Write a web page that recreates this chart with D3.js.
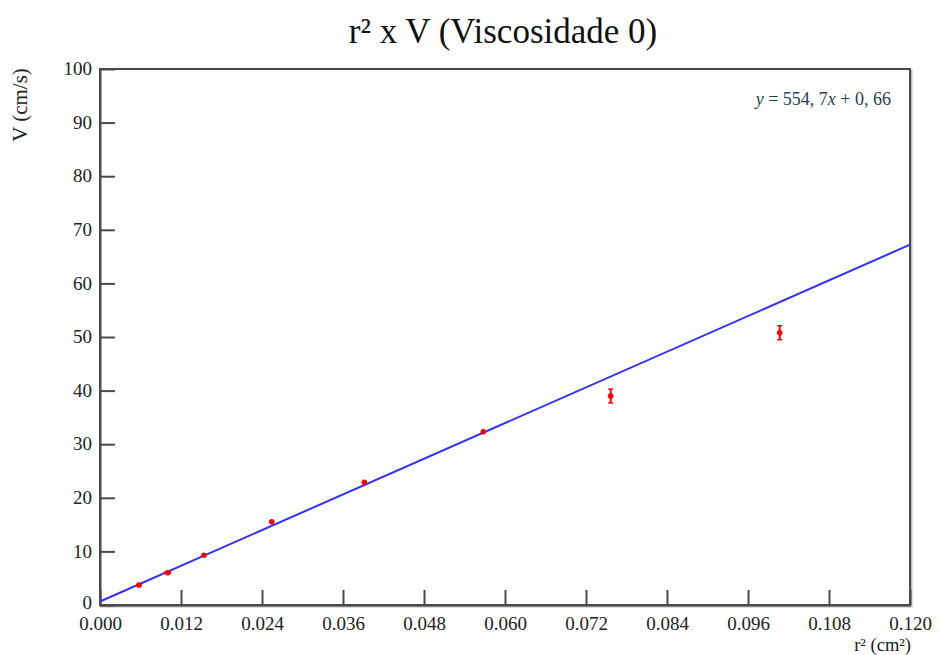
<!DOCTYPE html>
<html>
<head>
<meta charset="utf-8">
<script src="https://cdn.jsdelivr.net/npm/d3@7"></script>
<style>
body { margin: 0; background: #fff; }
text { font-family: "Liberation Serif", "DejaVu Serif", serif; }
</style>
</head>
<body>
<script>
// measured data (r^2 in cm^2, V in cm/s)
var r2 = [0.00578, 0.01003, 0.0154, 0.02544, 0.03916, 0.05679, 0.07566, 0.1007];
var vel = [3.73, 6.03, 9.27, 15.54, 22.89, 32.33, 38.99, 50.8];
var velErr = [0.25, 0.25, 0.25, 0.3, 0.3, 0.4, 1.3, 1.3];
var r2Err = [0.0004, 0.0005, 0, 0, 0, 0, 0, 0];

var xTicks = [0, 0.012, 0.024, 0.036, 0.048, 0.060, 0.072, 0.084, 0.096, 0.108, 0.120];
var yTicks = [0, 10, 20, 30, 40, 50, 60, 70, 80, 90, 100];

// fit
var slope = 554.7, intercept = 0.66;

var width = 939, height = 655;
var margin = {top: 69, right: 29, bottom: 50, left: 100};

var svg = d3.select("body").append("svg")
    .attr("width", width).attr("height", height);

var x = d3.scaleLinear().domain([0, 0.12]).range([margin.left, width - margin.right]);
var y = d3.scaleLinear().domain([0, 100]).range([height - margin.bottom, margin.top]);

var frameColour = "#4a4a4a";

// Title
svg.append("text")
    .attr("x", 503).attr("y", 43)
    .attr("text-anchor", "middle")
    .style("font-size", "35px")
    .attr("fill", "#111")
    .text("r² x V (Viscosidade 0)");

// frame shadow + frame
svg.append("rect")
    .attr("x", x(0) + 1.5).attr("y", y(100) + 1.5)
    .attr("width", x(0.12) - x(0)).attr("height", y(0) - y(100))
    .attr("fill", "none").attr("stroke", "#bbb").attr("stroke-width", 2);
svg.append("rect")
    .attr("x", x(0)).attr("y", y(100))
    .attr("width", x(0.12) - x(0)).attr("height", y(0) - y(100))
    .attr("fill", "#fff").attr("stroke", frameColour).attr("stroke-width", 2);

// axes, ticks inward
var xAxis = svg.append("g")
    .attr("transform", "translate(0," + y(0) + ")")
    .call(d3.axisBottom(x).tickValues(xTicks).tickSizeInner(-15).tickSizeOuter(0)
        .tickPadding(11.2).tickFormat(d3.format(".3f")));
var yAxis = svg.append("g")
    .attr("transform", "translate(" + x(0) + ",0)")
    .call(d3.axisLeft(y).tickValues(yTicks).tickSizeInner(-15).tickSizeOuter(0)
        .tickPadding(8));

[xAxis, yAxis].forEach(function(a) {
    a.select(".domain").attr("stroke", frameColour).attr("stroke-width", 2);
    a.selectAll(".tick line").attr("stroke", frameColour).attr("stroke-width", 2);
    a.selectAll(".tick text")
        .style("font-family", "'Liberation Serif', serif")
        .style("font-size", "19px")
        .attr("fill", "#222");
});
xAxis.selectAll(".tick text").attr("dy", "0.72em");
yAxis.selectAll(".tick text").attr("dy", "0.3em");
// lowest label nudged up a bit so it clears the x labels
yAxis.selectAll(".tick text").filter(function(d) { return d === 0; }).attr("dy", "0.2em");

// Axis labels
svg.append("text")
    .attr("x", x(0.12) + 1).attr("y", 650.8)
    .attr("text-anchor", "end")
    .style("font-size", "18.5px")
    .attr("fill", "#222")
    .text("r² (cm²)");

svg.append("text")
    .attr("transform", "translate(27,105)rotate(-90)")
    .attr("text-anchor", "middle")
    .style("font-size", "21px")
    .attr("fill", "#222")
    .text("V (cm/s)");

// Fit line
svg.append("line")
    .attr("x1", x(0)).attr("y1", y(intercept))
    .attr("x2", x(0.12)).attr("y2", y(slope * 0.12 + intercept))
    .attr("stroke", "#3030ff").attr("stroke-width", 2);

// Data with error bars
var pts = r2.map(function(d, i) {
    return {x: d, y: vel[i], ey: velErr[i], ex: r2Err[i]};
});
var g = svg.selectAll(".pt").data(pts).enter().append("g").attr("class", "pt");
g.append("line")
    .attr("x1", function(d) { return x(d.x); })
    .attr("x2", function(d) { return x(d.x); })
    .attr("y1", function(d) { return y(d.y - d.ey); })
    .attr("y2", function(d) { return y(d.y + d.ey); })
    .attr("stroke", "#f00").attr("stroke-width", 2);
// small caps on the larger error bars
g.filter(function(d) { return d.ey > 1; }).selectAll(".cap")
    .data(function(d) { return [[d.x, d.y - d.ey], [d.x, d.y + d.ey]]; })
    .enter().append("line")
    .attr("x1", function(c) { return x(c[0]) - 2.5; })
    .attr("x2", function(c) { return x(c[0]) + 2.5; })
    .attr("y1", function(c) { return y(c[1]); })
    .attr("y2", function(c) { return y(c[1]); })
    .attr("stroke", "#f00").attr("stroke-width", 1.5);
g.append("line")
    .attr("x1", function(d) { return x(d.x - d.ex); })
    .attr("x2", function(d) { return x(d.x + d.ex); })
    .attr("y1", function(d) { return y(d.y); })
    .attr("y2", function(d) { return y(d.y); })
    .attr("stroke", "#f00").attr("stroke-width", 3);
g.append("circle")
    .attr("cx", function(d) { return x(d.x); })
    .attr("cy", function(d) { return y(d.y); })
    .attr("r", 2.8)
    .attr("fill", "#f00");

// Fit equation
var eq = svg.append("text")
    .attr("x", 891).attr("y", 105)
    .attr("text-anchor", "end")
    .style("font-size", "18px")
    .attr("fill", "#24424f");
eq.append("tspan").style("font-style", "italic").text("y");
eq.append("tspan").text(" = 554, 7");
eq.append("tspan").style("font-style", "italic").text("x");
eq.append("tspan").text(" + 0, 66");
</script>
</body>
</html>
